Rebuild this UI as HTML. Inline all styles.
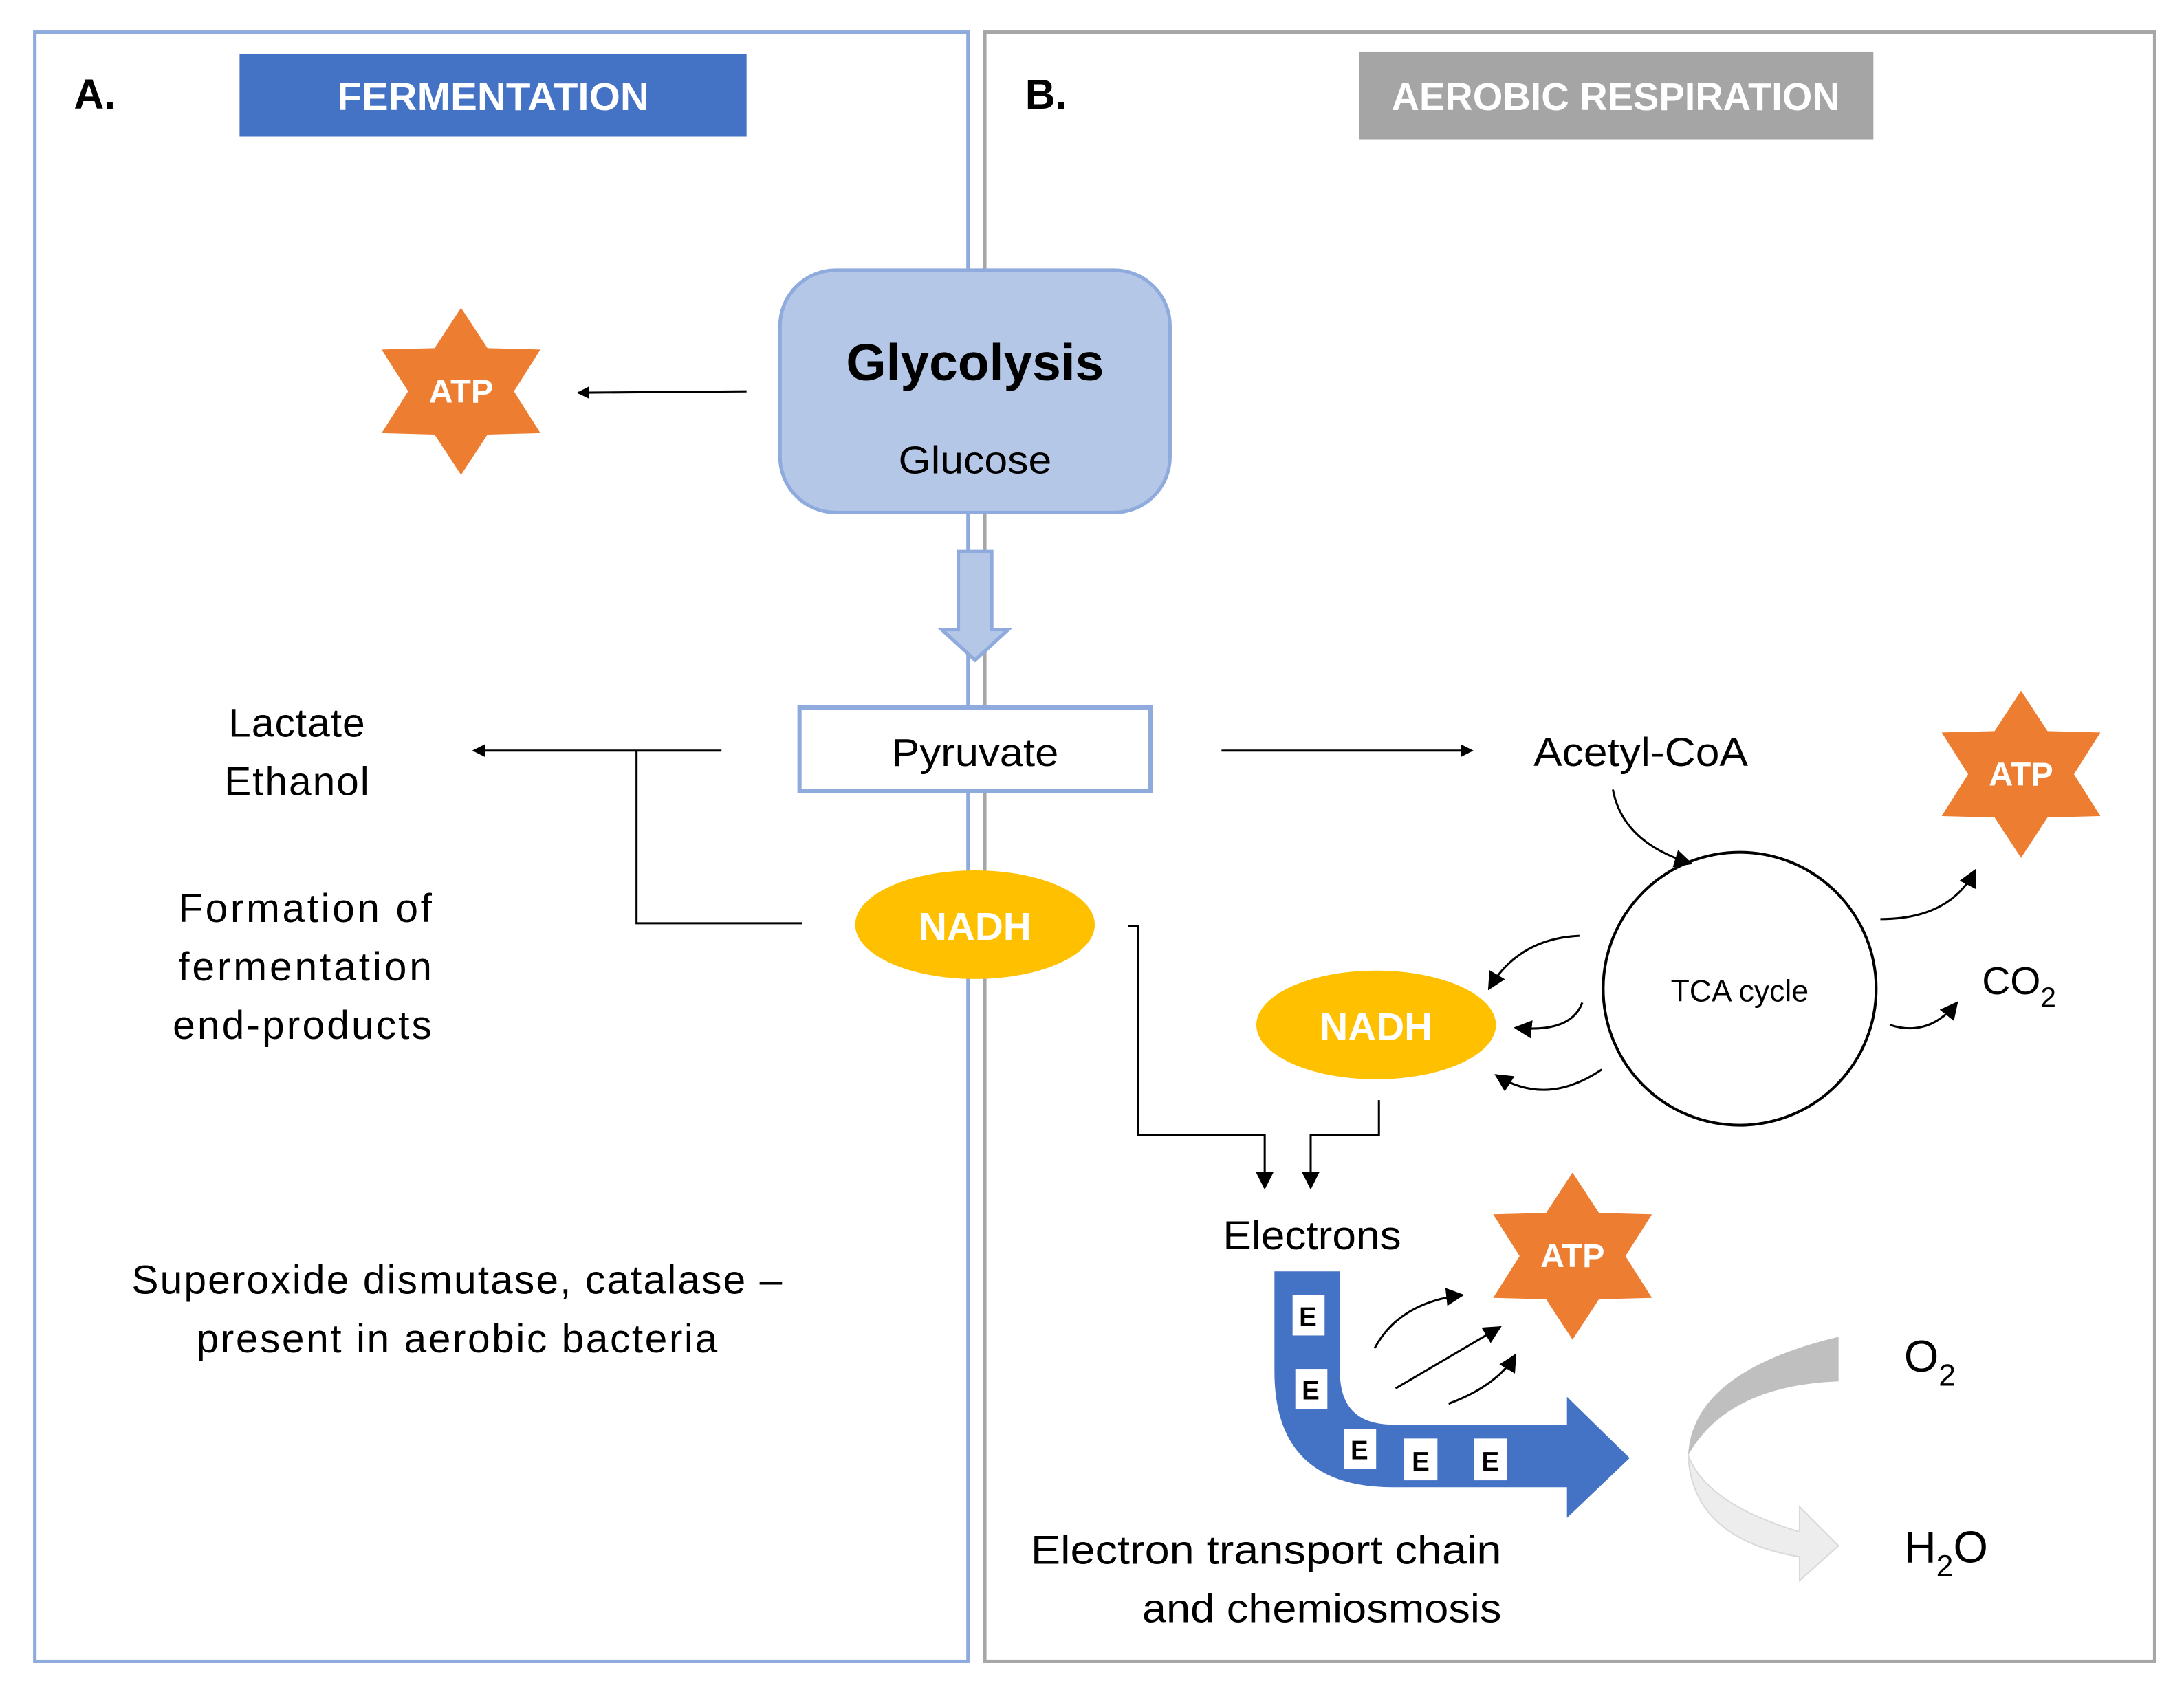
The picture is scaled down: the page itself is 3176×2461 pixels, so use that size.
<!DOCTYPE html>
<html><head><meta charset="utf-8"><style>
html,body{margin:0;padding:0;background:#fff;}
svg{display:block;}
text{font-family:"Liberation Sans",sans-serif;}
</style></head><body>
<svg width="3176" height="2461" viewBox="0 0 1568 1215" xmlns="http://www.w3.org/2000/svg">
<defs>
<marker id="ah" viewBox="0 0 10 10" refX="9" refY="5" markerWidth="9" markerHeight="9" markerUnits="userSpaceOnUse" orient="auto"><path d="M0,0 L10,5 L0,10 Z" fill="#000"/></marker>
<marker id="ah2" viewBox="0 0 10 10" refX="9" refY="5" markerWidth="13" markerHeight="13" markerUnits="userSpaceOnUse" orient="auto"><path d="M0,0 L10,5 L0,10 Z" fill="#000"/></marker>
<polygon id="star" points="0,-60 19,-31 57,-30 38,0 57,30 19,31 0,60 -19,31 -57,30 -38,0 -57,-30 -19,-31" fill="#ed7d31"/>
</defs>
<rect width="1568" height="1215" fill="#fff"/>
<rect x="25" y="23" width="670" height="1170" fill="none" stroke="#8faadc" stroke-width="2.5"/>
<rect x="707" y="23" width="840" height="1170" fill="none" stroke="#a6a6a6" stroke-width="2.5"/>
<text x="53" y="78" font-size="30" font-weight="bold">A.</text>
<rect x="172" y="39" width="364" height="59" fill="#4472c4"/>
<text x="354" y="79" font-size="28" font-weight="bold" fill="#fff" text-anchor="middle" textLength="224" lengthAdjust="spacingAndGlyphs">FERMENTATION</text>
<text x="736" y="78" font-size="30" font-weight="bold">B.</text>
<rect x="976" y="37" width="369" height="63" fill="#a5a5a5"/>
<text x="1160" y="79" font-size="28" font-weight="bold" fill="#fff" text-anchor="middle" textLength="322" lengthAdjust="spacingAndGlyphs">AEROBIC RESPIRATION</text>
<rect x="560" y="194" width="280" height="174" rx="40" fill="#b4c7e7" stroke="#8faadc" stroke-width="2.5"/>
<text x="700" y="273" font-size="37" font-weight="bold" text-anchor="middle">Glycolysis</text>
<text x="700" y="340" font-size="28" text-anchor="middle" textLength="110" lengthAdjust="spacingAndGlyphs">Glucose</text>
<path d="M688,396 L712,396 L712,452 L724,452 L700,474 L676,452 L688,452 Z" fill="#b4c7e7" stroke="#8faadc" stroke-width="2.5"/>
<rect x="574" y="508" width="252" height="60" fill="#fff" stroke="#8faadc" stroke-width="3"/>
<text x="700" y="550" font-size="28" text-anchor="middle" textLength="120" lengthAdjust="spacingAndGlyphs">Pyruvate</text>
<ellipse cx="700" cy="664" rx="86" ry="39" fill="#ffc000"/>
<text x="700" y="675" font-size="28" font-weight="bold" fill="#fff" text-anchor="middle">NADH</text>
<use href="#star" transform="translate(331,281)"/>
<text x="331" y="289" font-size="24" font-weight="bold" fill="#fff" text-anchor="middle">ATP</text>
<line x1="536" y1="281" x2="415" y2="282" stroke="#000" stroke-width="1.5" marker-end="url(#ah)"/>
<line x1="518" y1="539" x2="340" y2="539" stroke="#000" stroke-width="1.5" marker-end="url(#ah)"/>
<polyline points="457,539 457,663 576,663" fill="none" stroke="#000" stroke-width="1.5"/>
<g font-size="29" text-anchor="middle" lengthAdjust="spacingAndGlyphs">
<text x="213" y="529" textLength="98">Lactate</text>
<text x="213" y="571" textLength="104">Ethanol</text>
<text x="219" y="662" textLength="182">Formation of</text>
<text x="219" y="704" textLength="182">fermentation</text>
<text x="217" y="746" textLength="186">end-products</text>
<text x="328" y="929" textLength="467">Superoxide dismutase, catalase –</text>
<text x="328" y="971" textLength="374">present in aerobic bacteria</text>
</g>
<line x1="877" y1="539" x2="1057" y2="539" stroke="#000" stroke-width="1.5" marker-end="url(#ah)"/>
<text x="1178" y="550" font-size="29" text-anchor="middle" textLength="154" lengthAdjust="spacingAndGlyphs">Acetyl-CoA</text>
<path d="M1158,567 Q1165,605 1214,620" fill="none" stroke="#000" stroke-width="1.5" marker-end="url(#ah2)"/>
<circle cx="1249" cy="710" r="98" fill="none" stroke="#000" stroke-width="2"/>
<text x="1249" y="719" font-size="22" text-anchor="middle">TCA cycle</text>
<use href="#star" transform="translate(1451,556)"/>
<text x="1451" y="564" font-size="24" font-weight="bold" fill="#fff" text-anchor="middle">ATP</text>
<path d="M1350,660 Q1400,660 1418,625" fill="none" stroke="#000" stroke-width="1.5" marker-end="url(#ah2)"/>
<text x="1423" y="714" font-size="28">CO<tspan font-size="20" dy="9">2</tspan></text>
<path d="M1357,736 Q1385,745 1405,720" fill="none" stroke="#000" stroke-width="1.5" marker-end="url(#ah2)"/>
<ellipse cx="988" cy="736" rx="86" ry="39" fill="#ffc000"/>
<text x="988" y="747" font-size="28" font-weight="bold" fill="#fff" text-anchor="middle">NADH</text>
<path d="M1134,672 Q1090,674 1069,710" fill="none" stroke="#000" stroke-width="1.5" marker-end="url(#ah2)"/>
<path d="M1136,720 Q1128,742 1088,738" fill="none" stroke="#000" stroke-width="1.5" marker-end="url(#ah2)"/>
<path d="M1150,768 Q1110,795 1074,772" fill="none" stroke="#000" stroke-width="1.5" marker-end="url(#ah2)"/>
<polyline points="810,665 817,665 817,815 908,815 908,853" fill="none" stroke="#000" stroke-width="1.5" marker-end="url(#ah2)"/>
<polyline points="990,790 990,815 941,815 941,853" fill="none" stroke="#000" stroke-width="1.5" marker-end="url(#ah2)"/>
<text x="942" y="897" font-size="29" text-anchor="middle" textLength="128" lengthAdjust="spacingAndGlyphs">Electrons</text>
<use href="#star" transform="translate(1129,902)"/>
<text x="1129" y="910" font-size="24" font-weight="bold" fill="#fff" text-anchor="middle">ATP</text>
<path d="M915,913 L962,913 L962,985 Q962,1023 1000,1023 L1125,1023 L1125,1003 L1170,1047 L1125,1090 L1125,1068 L1000,1068 Q915,1068 915,985 Z" fill="#4472c4"/>
<g font-size="19" font-weight="bold" text-anchor="middle">
<rect x="928" y="930" width="23" height="29" fill="#fff"/><text x="939" y="952">E</text>
<rect x="930" y="983" width="23" height="29" fill="#fff"/><text x="941" y="1005">E</text>
<rect x="965" y="1026" width="23" height="29" fill="#fff"/><text x="976" y="1048">E</text>
<rect x="1008" y="1033" width="24" height="30" fill="#fff"/><text x="1020" y="1056">E</text>
<rect x="1058" y="1033" width="24" height="30" fill="#fff"/><text x="1070" y="1056">E</text>
</g>
<path d="M987,968 Q1005,935 1050,930" fill="none" stroke="#000" stroke-width="1.5" marker-end="url(#ah2)"/>
<line x1="1002" y1="997" x2="1077" y2="953" stroke="#000" stroke-width="1.5" marker-end="url(#ah2)"/>
<path d="M1040,1008 Q1075,995 1088,973" fill="none" stroke="#000" stroke-width="1.5" marker-end="url(#ah2)"/>
<path d="M1320,960 L1320,992 Q1240,995 1212,1045 Q1215,985 1320,960 Z" fill="#bfbfbf"/>
<path d="M1212,1045 Q1225,1080 1292,1100 L1292,1082 L1320,1110 L1292,1135 L1292,1118 Q1215,1105 1212,1045 Z" fill="#ededed" stroke="#d9d9d9" stroke-width="1"/>
<text x="1367" y="985" font-size="32">O<tspan font-size="22" dy="10">2</tspan></text>
<text x="1367" y="1122" font-size="32">H<tspan font-size="22" dy="10">2</tspan><tspan dy="-10">O</tspan></text>
<text x="1078" y="1123" font-size="29" text-anchor="end" textLength="338" lengthAdjust="spacingAndGlyphs">Electron transport chain</text>
<text x="1078" y="1165" font-size="29" text-anchor="end" textLength="258" lengthAdjust="spacingAndGlyphs">and chemiosmosis</text>
</svg>
</body></html>
